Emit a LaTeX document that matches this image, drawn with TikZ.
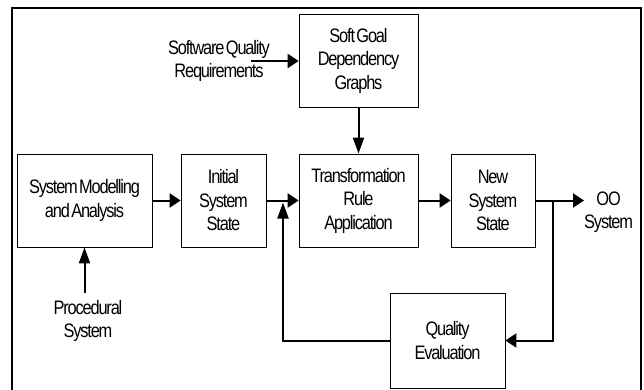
\documentclass[tikz,border=0pt]{standalone}
\usepackage{fontspec}
\setmainfont{Liberation Sans}[FakeStretch=0.84,LetterSpace=-6,WordSpace=0.4]
\usetikzlibrary{arrows.meta}

\begin{document}
\begin{tikzpicture}[x=1pt,y=-1pt,font=\fontsize{19.5}{23.5}\selectfont,
  box/.style={draw,line width=.8pt,align=center,inner sep=0pt},
  lbl/.style={align=center,inner sep=0pt},
  hflow/.style={line width=2pt,-{Triangle[length=11pt,width=14pt]}},
  vflow/.style={line width=2pt,-{Triangle[length=16pt,width=11pt]}}]
  \useasboundingbox (0,0) rectangle (644,390);
  % outer frame
  \draw[line width=2.5pt] (12,400) -- (12,8) -- (641,8) -- (641,400);
  % boxes
  \node[box,minimum width=119pt,minimum height=93pt] (sgdg) at (358.5,60.5) {Soft Goal\\Dependency\\Graphs};
  \node[box,minimum width=135pt,minimum height=93pt] (sma) at (84.5,200.5) {System Modelling\\and Analysis};
  \node[box,minimum width=85pt,minimum height=93pt] (iss) at (223.5,200.5) {Initial\\System\\State};
  \node[box,minimum width=119pt,minimum height=93pt] (tra) at (358.5,200.5) {Transformation\\Rule\\Application};
  \node[box,minimum width=84pt,minimum height=93pt] (nss) at (493,200.5) {New\\System\\State};
  \node[box,minimum width=115pt,minimum height=95pt] (qe) at (447.5,340.5) {Quality\\Evaluation};
  % free labels
  \node[lbl] (sqr) at (219,61) {Software Quality\\Requirements};
  \node[lbl] (ps) at (88,321) {Procedural\\System};
  \node[lbl,anchor=west] (oo) at (584,212) {OO\\System};
  \coordinate (sqrend) at (251,61);
  \coordinate (psend) at (84.5,293);
  \coordinate (br) at (553,200.5);
  \coordinate (fb) at (283,202.5);
  % connectors
  \draw[hflow] (sqrend) -- (sqrend -| sgdg.west);
  \draw[vflow] (sgdg) -- (tra);
  \draw[vflow] (psend) -- (sma.south);
  \draw[hflow] (sma) -- (iss);
  \draw[hflow] (iss) -- (tra);
  \draw[hflow] (tra) -- (nss);
  \draw[hflow] (nss) -- (nss -| oo.west);
  \draw[hflow] (br) |- (qe.east);
  \draw[vflow] (qe.west) -| (fb);
\end{tikzpicture}
\end{document}
